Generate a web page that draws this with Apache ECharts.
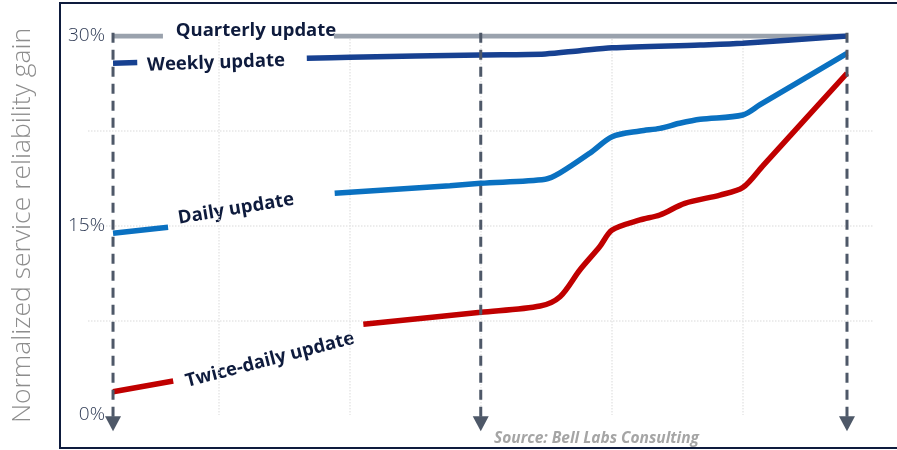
<!DOCTYPE html>
<html>
<head>
<meta charset="utf-8">
<script src="https://cdn.jsdelivr.net/npm/echarts@6/dist/echarts.min.js"></script>
<style>
  html, body { margin: 0; padding: 0; background: #fff; }
  #chart { width: 897px; height: 450px; }
</style>
</head>
<body>
<div id="chart"></div>
<script>
// x position along the roadmap, 0 = first arrow, 100 = last arrow
// a null value leaves a gap where the series label sits
var quarterlyT = [0, 6.8, 15, 30.1, 100];
var quarterlyV = [30, 30, null, 30, 30];

var weeklyT = [0, 3.3, 15, 26.4, 32.3, 50.1, 58.9, 63.6, 68.0, 80.0, 85.8, 100];
var weeklyV = [27.85, 27.9, null, 28.24, 28.32, 28.5, 28.58, 28.84, 29.07, 29.29, 29.42, 30.0];

var dailyT = [0, 7.5, 20, 30.2, 45.9, 50.1, 58.9, 60.9, 65.0, 68.0, 71.8, 74.5, 77.2, 80.0, 85.8, 88.1, 100];
var dailyV = [14.38, 14.86, null, 17.55, 18.15, 18.34, 18.66, 19.16, 20.74, 22.03, 22.48, 22.69, 23.09, 23.41, 23.75, 24.54, 28.63];

var twiceT = [0, 8.2, 20, 34.1, 50.1, 58.2, 60.9, 63.6, 66.3, 68.0, 71.8, 74.5, 77.9, 82.7, 85.8, 88.5, 100];
var twiceV = [1.84, 2.69, null, 7.18, 8.13, 8.63, 9.36, 11.48, 13.32, 14.64, 15.44, 15.83, 16.76, 17.41, 18.0, 19.7, 27.05];

var arrowT = [0, 50.1, 100];
var yTicks = [0, 15, 30];

function pairs(t, v) {
  var out = [];
  for (var i = 0; i < t.length; i++) out.push([t[i], v[i]]);
  return out;
}

function curve(name, t, v, color, width) {
  return {
    name: name,
    type: 'line',
    xAxisIndex: 0,
    data: pairs(t, v),
    smooth: 0.3,
    connectNulls: false,
    showSymbol: false,
    symbol: 'none',
    lineStyle: { color: color, width: width, cap: 'butt' },
    z: 3
  };
}

var series = [
  curve('Quarterly update', quarterlyT, quarterlyV, '#9aa2ad', 5),
  curve('Weekly update', weeklyT, weeklyV, '#174191', 5.5),
  curve('Daily update', dailyT, dailyV, '#0a71c1', 5.5),
  curve('Twice-daily update', twiceT, twiceV, '#c00000', 5.5)
];

// dashed milestone arrows
arrowT.forEach(function (t) {
  series.push({
    type: 'line',
    xAxisIndex: 0,
    clip: false,
    silent: true,
    data: [
      { value: [t, 30.25], symbol: 'none' },
      { value: [t, -0.7], symbol: 'triangle', symbolSize: [16, 15], symbolRotate: 180 }
    ],
    lineStyle: { color: '#4e5868', width: 3, type: [10, 7] },
    itemStyle: { color: '#4e5868' },
    z: 5
  });
});

var labelFont = 'bold 18.5px "Open Sans", sans-serif';
var labelColor = '#0e1b3d';

var option = {
  backgroundColor: '#fff',
  animation: false,
  grid: { left: 88, right: 23, top: 36, bottom: 35 },
  xAxis: [{
    type: 'value',
    min: -3.41,
    max: 103.68,
    show: false
  }, {
    type: 'value',
    min: 0,
    max: 6,
    interval: 1,
    axisLine: { show: false },
    axisTick: { show: false },
    axisLabel: { show: false },
    splitLine: {
      show: true,
      lineStyle: {
        type: 'dotted',
        width: 1.5,
        color: ['transparent', '#e6e6e6', '#e6e6e6', '#e6e6e6', '#e6e6e6', '#e6e6e6', 'transparent']
      }
    }
  }],
  yAxis: {
    type: 'value',
    min: 0,
    max: 30,
    interval: 7.5,
    name: 'Normalized service reliability gain',
    nameLocation: 'middle',
    nameRotate: 90,
    nameGap: 52,
    nameTextStyle: { color: '#8d8d8d', fontSize: 26.5, fontWeight: 300, fontFamily: 'Open Sans' },
    axisLine: { show: false },
    axisTick: { show: false },
    axisLabel: {
      margin: -17,
      color: '#2f3b55',
      fontSize: 19,
      fontFamily: 'Open Sans',
      fontWeight: 300,
      formatter: function (v) {
        return yTicks.indexOf(v) >= 0 ? v + '%' : '';
      }
    },
    splitLine: {
      show: true,
      lineStyle: {
        type: 'dotted',
        width: 1.5,
        color: ['transparent', '#e6e6e6', '#e6e6e6', '#e6e6e6', 'transparent']
      }
    }
  },
  graphic: [
    {
      type: 'rect',
      shape: { x: 60, y: 3, width: 860, height: 445 },
      style: { fill: 'none', stroke: '#0e1b3d', lineWidth: 2 },
      silent: true,
      z: 10
    },
    {
      type: 'text', x: 256, y: 31,
      style: { text: 'Quarterly update', font: labelFont, fill: labelColor, align: 'center', verticalAlign: 'middle' }
    },
    {
      type: 'text', x: 216, y: 63, rotation: 0.035,
      style: { text: 'Weekly update', font: labelFont, fill: labelColor, align: 'center', verticalAlign: 'middle' }
    },
    {
      type: 'text', x: 236, y: 209, rotation: 0.165,
      style: { text: 'Daily update', font: labelFont, fill: labelColor, align: 'center', verticalAlign: 'middle' }
    },
    {
      type: 'text', x: 270, y: 360, rotation: 0.255,
      style: { text: 'Twice-daily update', font: labelFont, fill: labelColor, align: 'center', verticalAlign: 'middle' }
    },
    {
      type: 'text', x: 494, y: 439,
      style: { text: 'Source: Bell Labs Consulting', font: 'italic bold 15.5px "Open Sans", sans-serif', fill: '#a5a5a5', align: 'left', verticalAlign: 'middle' }
    }
  ],
  series: series
};

var chart = echarts.init(document.getElementById('chart'));
chart.setOption(option);
</script>
</body>
</html>
